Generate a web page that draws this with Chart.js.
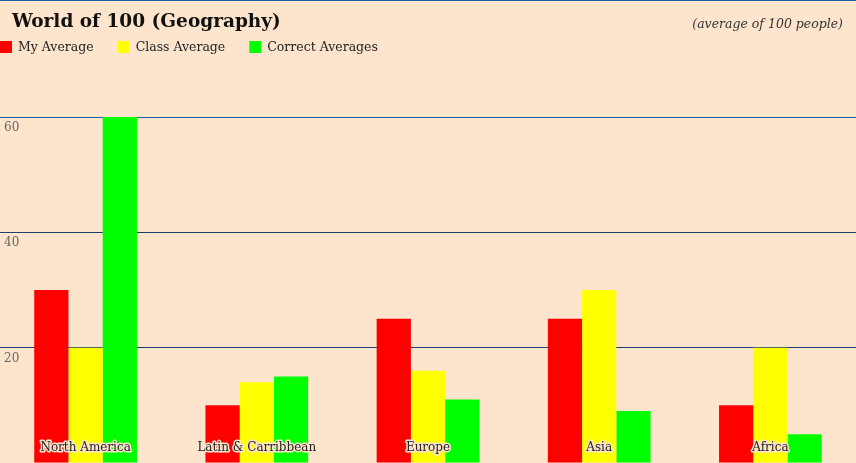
<!DOCTYPE html>
<html>
<head>
<meta charset="utf-8">
<script src="https://cdn.jsdelivr.net/npm/chart.js@4"></script>
<style>
  body { margin: 0; background: #fde4cd; }
  #wrap { width: 856px; height: 463px; position: relative; }
</style>
</head>
<body>
<div id="wrap"><canvas id="geoChart"></canvas></div>
<script>
// chart data
const regions = ['North America', 'Latin & Carribbean', 'Europe', 'Asia', 'Africa'];
const myAverage = [30, 10, 25, 25, 10];
const classAverage = [20, 14, 16, 30, 20];
const correctAverages = [60, 15, 11, 9, 5];
const yTicks = [20, 40, 60];

const chartTitle = 'World of 100 (Geography)';
const chartNote = '(average of 100 people)';
const serif = "'DejaVu Serif', Georgia, serif";

// header, legend and in-plot labels
const decorPlugin = {
    id: 'decor',
    afterDraw(chart) {
        const ctx = chart.ctx;
        const area = chart.chartArea;
        const yScale = chart.scales.y;
        const xScale = chart.scales.x;
        ctx.save();

        // thin line at the very top
        ctx.strokeStyle = '#1f5fa8';
        ctx.lineWidth = 1;
        ctx.beginPath();
        ctx.moveTo(0, 0.5);
        ctx.lineTo(chart.width, 0.5);
        ctx.stroke();

        // title
        ctx.fillStyle = '#111';
        ctx.textBaseline = 'middle';
        ctx.font = 'bold 18.5px ' + serif;
        ctx.textAlign = 'left';
        ctx.fillText(chartTitle, 12, 22);

        // note on the right
        ctx.font = 'italic 12.5px ' + serif;
        ctx.fillStyle = '#333';
        ctx.textAlign = 'right';
        ctx.fillText(chartNote, 843, 25);

        // legend
        ctx.font = '12.5px ' + serif;
        ctx.textAlign = 'left';
        let x = 0;
        chart.data.datasets.forEach(ds => {
            ctx.fillStyle = ds.backgroundColor;
            ctx.fillRect(x, 41, 12, 12);
            ctx.fillStyle = '#222';
            ctx.fillText(ds.label, x + 18, 48);
            x += 18 + ctx.measureText(ds.label).width + 24;
        });

        // y tick labels just under each grid line
        ctx.font = '12px ' + serif;
        ctx.fillStyle = '#666';
        yTicks.forEach(v => {
            ctx.fillText(String(v), 4, yScale.getPixelForValue(v) + 11);
        });

        // category labels inside the bars
        ctx.font = '12px ' + serif;
        ctx.textAlign = 'center';
        ctx.lineJoin = 'round';
        regions.forEach((r, i) => {
            const cx = xScale.getPixelForValue(i);
            ctx.strokeStyle = '#fde4cd';
            ctx.lineWidth = 3;
            ctx.strokeText(r, cx, area.bottom - 15);
            ctx.fillStyle = '#222';
            ctx.fillText(r, cx, area.bottom - 15);
        });
        ctx.restore();
    }
};

const ctx = document.getElementById('geoChart').getContext('2d');
const chart = new Chart(ctx, {
    type: 'bar',
    data: {
        labels: regions,
        datasets: [
            { label: 'My Average', data: myAverage, backgroundColor: '#ff0000' },
            { label: 'Class Average', data: classAverage, backgroundColor: '#ffff00' },
            { label: 'Correct Averages', data: correctAverages, backgroundColor: '#00ff00' }
        ]
    },
    options: {
        responsive: true,
        maintainAspectRatio: false,
        animation: false,
        layout: { padding: { top: 117, left: 0, right: 0, bottom: 0 } },
        datasets: {
            bar: { categoryPercentage: 0.6, barPercentage: 1.0 }
        },
        plugins: {
            legend: { display: false },
            title: { display: false },
            tooltip: { enabled: false }
        },
        scales: {
            x: { display: false },
            y: {
                min: 0,
                max: 60,
                ticks: { display: false, stepSize: 20 },
                border: { display: false },
                grid: {
                    drawTicks: false,
                    lineWidth: 1,
                    color: c => c.tick.value === 0 ? '#333333' : (c.tick.value === 60 ? '#1f5fa8' : '#1f3f73')
                }
            }
        }
    },
    plugins: [decorPlugin]
});
</script>
</body>
</html>
